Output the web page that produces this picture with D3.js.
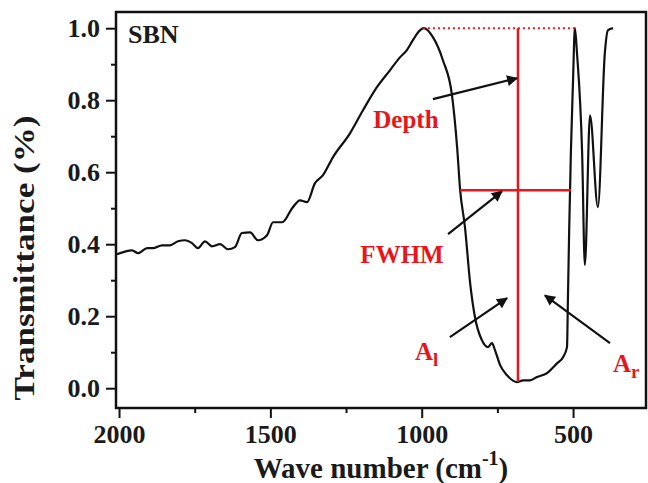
<!DOCTYPE html>
<html>
<head>
<meta charset="utf-8">
<script src="https://cdn.jsdelivr.net/npm/d3@7"></script>
<style>
  body { margin: 0; background: #fff; }
  svg text { font-family: "Liberation Serif", "Times New Roman", serif; font-weight: bold; }
</style>
</head>
<body>
<svg id="chart" width="648" height="483"></svg>
<script>
// spectrum: wave number (cm-1) and transmittance
const waveNumber = [2007, 1957, 1937, 1907, 1888, 1858, 1832, 1805, 1782, 1759, 1739, 1716,
  1693, 1666, 1640, 1617, 1594, 1567, 1541, 1511, 1491, 1461, 1428, 1402, 1379, 1353, 1326,
  1293, 1237, 1194, 1148, 1105, 1072, 1049, 1029, 1006, 993, 963, 930, 900, 883, 873, 857,
  840, 824, 801, 781, 768, 758, 741, 718, 685, 665, 642, 619, 586, 553, 533, 520, 517, 513,
  507, 500, 494, 487, 470, 461, 444, 418, 395, 385, 368]
const transmittance = [0.372, 0.383, 0.375, 0.389, 0.389, 0.397, 0.397, 0.408, 0.411, 0.403,
  0.389, 0.408, 0.394, 0.400, 0.386, 0.392, 0.431, 0.433, 0.411, 0.425, 0.461, 0.461, 0.500,
  0.522, 0.517, 0.569, 0.592, 0.642, 0.708, 0.772, 0.836, 0.883, 0.919, 0.939, 0.967, 0.994,
  1.0, 0.975, 0.911, 0.814, 0.669, 0.550, 0.447, 0.292, 0.197, 0.133, 0.114, 0.125, 0.106,
  0.064, 0.036, 0.017, 0.022, 0.022, 0.031, 0.042, 0.069, 0.086, 0.114, 0.244, 0.431, 0.661,
  0.856, 1.0, 0.931, 0.653, 0.342, 0.758, 0.503, 0.931, 0.994, 1.0]

const xMajorTicks = [2000, 1500, 1000, 500]
const xMinorTicks = [1750, 1250, 750]
const yMajorTicks = [0, 0.2, 0.4, 0.6, 0.8, 1.0]
const yMinorTicks = [0.1, 0.3, 0.5, 0.7, 0.9]

// annotation geometry, in data units
const depthLine = { w: 682, t0: 0.017, t1: 1.0 }
const topLine = { w0: 996, w1: 494, t: 1.0 }
const fwhmLine = { w0: 873, w1: 507, t: 0.55 }
const arrows = [
  { from: [963, 0.803], to: [685, 0.861] },
  { from: [913, 0.428], to: [735, 0.547] },
  { from: [907, 0.142], to: [718, 0.250] },
  { from: [378, 0.125], to: [593, 0.258] },
]
const labels = [
  { text: 'Depth', w: 1052, t: 0.722, anchor: 'middle' },
  { text: 'FWHM', w: 1065, t: 0.347, anchor: 'middle' },
  { text: 'A', sub: 'l', w: 1022, t: 0.078, anchor: 'start' },
  { text: 'A', sub: 'r', w: 368, t: 0.044, anchor: 'start' },
]

const width = 648
const height = 483
const margin = { top: 12, right: 2, bottom: 75, left: 116 }
const red = '#e8161c'

const svg = d3.select('#chart')

const x = d3.scaleLinear().domain([2010, 259]).range([margin.left, width - margin.right])
const y = d3.scaleLinear().domain([-0.055, 1.045]).range([height - margin.bottom, margin.top])

const data = waveNumber.map((w, i) => ({ w: w, t: transmittance[i] }))

// arrow head
svg.append('defs')
  .append('marker')
  .attr('id', 'head')
  .attr('viewBox', '0 0 10 10')
  .attr('refX', 9)
  .attr('refY', 5)
  .attr('markerWidth', 7)
  .attr('markerHeight', 5)
  .attr('markerUnits', 'strokeWidth')
  .attr('orient', 'auto')
  .append('path')
  .attr('d', 'M0,0 L10,5 L0,10 z')
  .attr('fill', '#111')

// x axis, major and minor
const xAxis = svg.append('g')
  .attr('transform', `translate(0,${height - margin.bottom})`)
  .call(d3.axisBottom(x).tickValues(xMajorTicks).tickSize(10).tickPadding(6).tickFormat(d3.format('d')))
xAxis.append('g')
  .call(d3.axisBottom(x).tickValues(xMinorTicks).tickSize(5).tickFormat(''))

// y axis, major and minor
const yAxis = svg.append('g')
  .attr('transform', `translate(${margin.left},0)`)
  .call(d3.axisLeft(y).tickValues(yMajorTicks).tickSize(10).tickPadding(6).tickFormat(d3.format('.1f')))
yAxis.append('g')
  .call(d3.axisLeft(y).tickValues(yMinorTicks).tickSize(5).tickFormat(''))

svg.selectAll('.domain').remove()
svg.selectAll('.tick line').attr('stroke', '#111').attr('stroke-width', 2)
svg.selectAll('.tick text')
  .attr('fill', '#1a1a1a')
  .style('font-size', '26px')
xAxis.selectAll('.tick text').attr('dy', '0.72em')

// curve
svg.append('path')
  .datum(data)
  .attr('fill', 'none')
  .attr('stroke', '#111')
  .attr('stroke-width', 2.2)
  .attr('stroke-linejoin', 'round')
  .attr('d', d3.line().x((d) => x(d.w)).y((d) => y(d.t)).curve(d3.curveMonotoneX))

// red guide lines
svg.append('line')
  .attr('x1', x(topLine.w0)).attr('x2', x(topLine.w1))
  .attr('y1', y(topLine.t)).attr('y2', y(topLine.t))
  .attr('stroke', red).attr('stroke-width', 2).attr('stroke-dasharray', '2,3')
svg.append('line')
  .attr('x1', x(depthLine.w)).attr('x2', x(depthLine.w))
  .attr('y1', y(depthLine.t0)).attr('y2', y(depthLine.t1))
  .attr('stroke', red).attr('stroke-width', 2.5)
svg.append('line')
  .attr('x1', x(fwhmLine.w0)).attr('x2', x(fwhmLine.w1))
  .attr('y1', y(fwhmLine.t)).attr('y2', y(fwhmLine.t))
  .attr('stroke', red).attr('stroke-width', 2.5)

// arrows
svg.selectAll('line.arrow')
  .data(arrows)
  .enter()
  .append('line')
  .attr('class', 'arrow')
  .attr('x1', (d) => x(d.from[0])).attr('y1', (d) => y(d.from[1]))
  .attr('x2', (d) => x(d.to[0])).attr('y2', (d) => y(d.to[1]))
  .attr('stroke', '#111')
  .attr('stroke-width', 2.2)
  .attr('marker-end', 'url(#head)')

// red labels
const lab = svg.selectAll('text.note')
  .data(labels)
  .enter()
  .append('text')
  .attr('class', 'note')
  .attr('x', (d) => x(d.w))
  .attr('y', (d) => y(d.t))
  .attr('text-anchor', (d) => d.anchor)
  .attr('fill', red)
  .style('font-size', '25px')
lab.append('tspan').text((d) => d.text)
lab.filter((d) => d.sub)
  .append('tspan')
  .attr('dy', 6)
  .style('font-size', '19px')
  .text((d) => d.sub)

// frame
svg.append('rect')
  .attr('x', margin.left)
  .attr('y', margin.top)
  .attr('width', width - margin.left - margin.right)
  .attr('height', height - margin.top - margin.bottom)
  .attr('fill', 'none')
  .attr('stroke', '#111')
  .attr('stroke-width', 2.5)

// sample name
svg.append('text')
  .attr('x', margin.left + 12)
  .attr('y', margin.top + 31)
  .attr('fill', '#1a1a1a')
  .style('font-size', '26px')
  .text('SBN')

// axis titles
const xTitle = svg.append('text')
  .attr('x', (margin.left + width - margin.right) / 2)
  .attr('y', 478)
  .attr('text-anchor', 'middle')
  .attr('fill', '#1a1a1a')
  .style('font-size', '29px')
xTitle.append('tspan').text('Wave number (cm')
xTitle.append('tspan').attr('dy', -13).style('font-size', '20px').text('-1')
xTitle.append('tspan').attr('dy', 13).text(')')

svg.append('text')
  .attr('transform', `translate(34,258) rotate(-90)`)
  .attr('text-anchor', 'middle')
  .attr('fill', '#1a1a1a')
  .attr('textLength', 285)
  .attr('lengthAdjust', 'spacingAndGlyphs')
  .style('font-size', '29px')
  .text('Transmittance (%)')
</script>
</body>
</html>
